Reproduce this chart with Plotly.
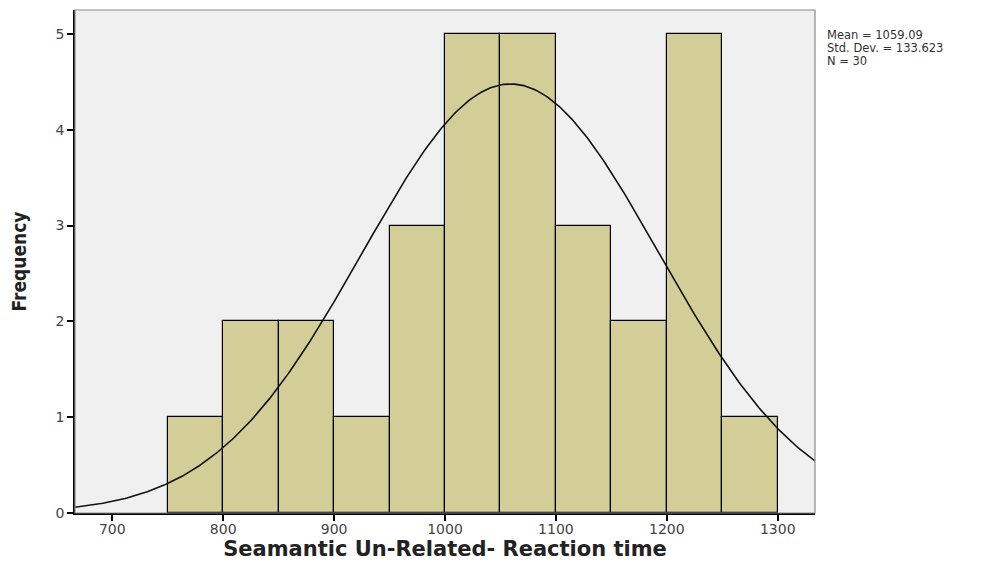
import numpy as np
import plotly.graph_objects as go

# Data
bin_edges_left = [750, 800, 850, 900, 950, 1000, 1050, 1100, 1150, 1200, 1250]
counts = [1, 2, 2, 1, 3, 5, 5, 3, 2, 5, 1]
bin_width = 50
mean_val = 1059.09
std_val = 133.623
n_val = 30
x_ticks = [700, 800, 900, 1000, 1100, 1200, 1300]
y_ticks = [0, 1, 2, 3, 4, 5]

centers = [b + bin_width / 2 for b in bin_edges_left]

xr = [666.4, 1333.6]
xs = np.linspace(xr[0], xr[1], 400)
ys = n_val * bin_width * np.exp(-0.5 * ((xs - mean_val) / std_val) ** 2) / (std_val * np.sqrt(2 * np.pi))

fig = go.Figure()
fig.add_trace(go.Bar(
    x=centers, y=counts, width=bin_width,
    marker=dict(color="#D3CE98", line=dict(color="#000000", width=1.2)),
    hoverinfo="skip", showlegend=False,
))
fig.add_trace(go.Scatter(
    x=xs, y=ys, mode="lines", line=dict(color="#111111", width=1.6),
    hoverinfo="skip", showlegend=False,
))

fig.add_shape(type="rect", xref="paper", yref="paper", x0=0, y0=0, x1=1, y1=1,
              line=dict(color="#8a8a8a", width=1.2), layer="above")

legend_lines = [f"Mean = {mean_val}", f"Std. Dev. = {std_val}", f"N = {n_val}"]
legend_y = [0.950, 0.924, 0.898]
annotations = [dict(
    xref="paper", yref="paper", x=1.013, y=yy, xanchor="left", yanchor="middle",
    text=t, showarrow=False, align="left",
    font=dict(family="DejaVu Sans, sans-serif", size=11.5, color="#333333"),
) for t, yy in zip(legend_lines, legend_y)]

fig.update_layout(
    width=989, height=558,
    margin=dict(l=67, r=182, t=2, b=53),
    paper_bgcolor="#FFFFFF", plot_bgcolor="#F0F0F0",
    bargap=0,
    font=dict(family="DejaVu Sans, sans-serif", color="#444444", size=13),
    xaxis=dict(
        range=xr, tickvals=x_ticks, ticktext=[str(t) for t in x_ticks],
        showgrid=False, zeroline=False, automargin=False,
        showline=True, linecolor="#000000", linewidth=1.5,
        ticks="outside", ticklen=6, tickcolor="#000000", tickwidth=1.5,
        ticklabelstandoff=-4,
        tickfont=dict(family="DejaVu Sans, sans-serif", size=14, color="#444444"),
        title=dict(text="<b>Seamantic Un-Related- Reaction time</b>",
                   font=dict(family="DejaVu Sans, sans-serif", size=21, color="#222222"),
                   standoff=1),
    ),
    yaxis=dict(
        range=[0, 5.25], tickvals=y_ticks,
        showgrid=False, zeroline=False, automargin=False,
        showline=True, linecolor="#000000", linewidth=1.5,
        ticks="outside", ticklen=6, tickcolor="#000000", tickwidth=1.5,
        tickfont=dict(family="DejaVu Sans, sans-serif", size=14, color="#444444"),
        title=dict(text="<b>Frequency</b>",
                   font=dict(family="Liberation Sans Narrow, DejaVu Sans Condensed, Arial Narrow, sans-serif", size=19, color="#222222"),
                   standoff=24),
    ),
    annotations=annotations,
)

fig.write_html("out.html")
